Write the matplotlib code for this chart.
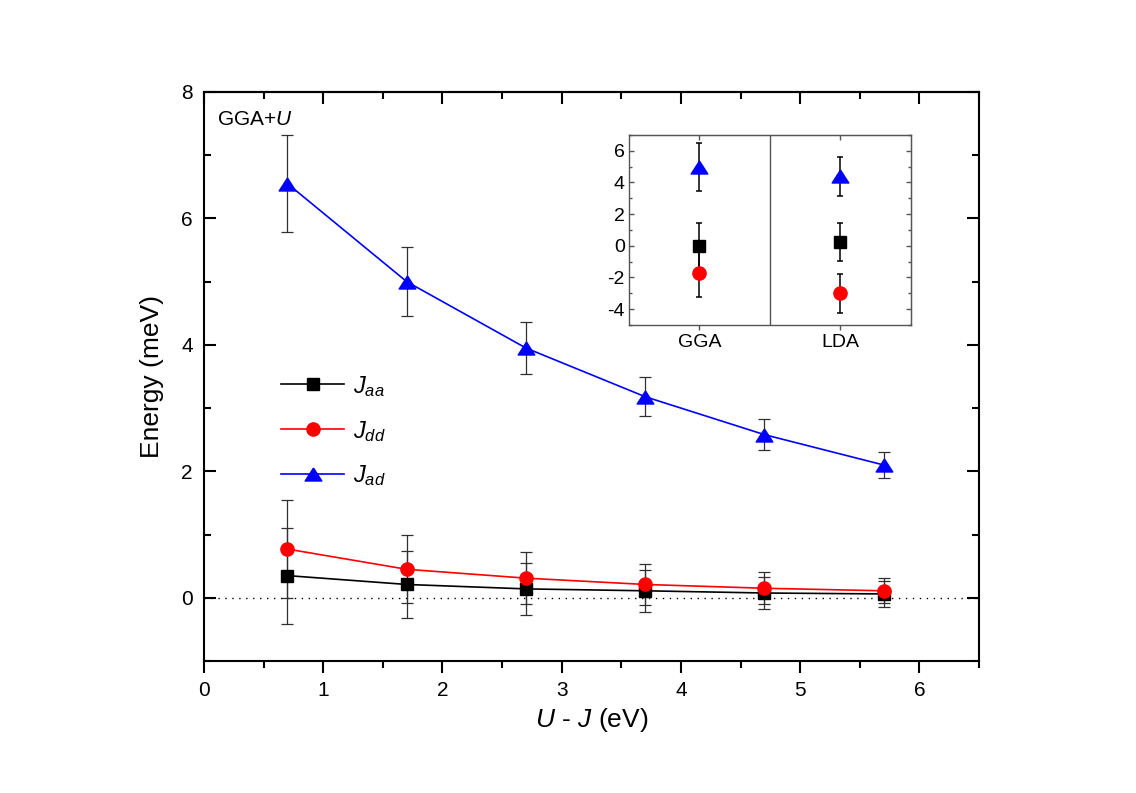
import numpy as np
import matplotlib
matplotlib.use('Agg')
import matplotlib.pyplot as plt
from matplotlib.ticker import MultipleLocator

plt.rcParams['font.family'] = ['Liberation Sans', 'DejaVu Sans']
plt.rcParams['mathtext.fontset'] = 'custom'
plt.rcParams['mathtext.rm'] = 'Liberation Sans'
plt.rcParams['mathtext.it'] = 'Liberation Sans:italic'
plt.rcParams['axes.unicode_minus'] = False

# main panel: exchange constants vs U-J (GGA+U)
u_j = [0.7, 1.7, 2.7, 3.7, 4.7, 5.7]
j_aa = [0.35, 0.21, 0.14, 0.11, 0.075, 0.06]
j_aa_err = [0.76, 0.53, 0.41, 0.33, 0.255, 0.2]
j_dd = [0.77, 0.45, 0.31, 0.21, 0.15, 0.11]
j_dd_err = [0.78, 0.54, 0.41, 0.32, 0.25, 0.2]
j_ad = [6.55, 5.0, 3.95, 3.18, 2.58, 2.1]
j_ad_err = [0.77, 0.55, 0.41, 0.31, 0.25, 0.2]

# inset: GGA vs LDA
methods = ['GGA', 'LDA']
ins_aa = [-0.04, 0.24]
ins_aa_err = [1.48, 1.23]
ins_dd = [-1.73, -3.01]
ins_dd_err = [1.53, 1.23]
ins_ad = [4.98, 4.38]
ins_ad_err = [1.54, 1.24]

tri = [(0, 0.78), (-1, -0.78), (1, -0.78), (0, 0.78)]
series = [
    (j_aa, j_aa_err, ins_aa, ins_aa_err, 'black', 's', 9, r'$J_{aa}$'),
    (j_dd, j_dd_err, ins_dd, ins_dd_err, '#ff0000', 'o', 9.5, r'$J_{dd}$'),
    (j_ad, j_ad_err, ins_ad, ins_ad_err, '#0000ff', tri, 12, r'$J_{ad}$'),
]

fig = plt.figure(figsize=(11.36, 7.93), dpi=100)
ax = fig.add_axes([0.1796, 0.1665, 0.6822, 0.7175])

ax.axhline(0, color='black', ls=(0, (1, 4)), lw=1, zorder=1)
for vals, errs, _, _, col, mk, ms, lab in series:
    ax.errorbar(u_j, vals, yerr=errs, fmt='none', ecolor='#303030',
                elinewidth=0.9, capsize=4.5, capthick=0.9, zorder=2)
    ax.plot(u_j, vals, color=col, lw=1.2, marker=mk, ms=ms,
            mec=col, mfc=col, label=lab, zorder=3)

ax.set_xlim(0, 6.5)
ax.set_ylim(-1, 8)
ax.set_xticks(range(7))
ax.xaxis.set_minor_locator(MultipleLocator(0.5))
ax.set_yticks([0, 2, 4, 6, 8])
ax.yaxis.set_minor_locator(MultipleLocator(1))
for s in ax.spines.values():
    s.set_linewidth(1.5)
ax.tick_params(axis='y', which='both', direction='in', right=True, width=1.5,
               labelsize=15, pad=8)
ax.tick_params(axis='x', which='both', direction='out', width=1.5,
               labelsize=15, pad=6)
ax.tick_params(which='major', length=8.5)
ax.tick_params(which='minor', length=5)

top = ax.secondary_xaxis('top')
top.set_xticks(range(7))
top.xaxis.set_minor_locator(MultipleLocator(0.5))
top.tick_params(which='both', direction='in', width=1.5, labeltop=False)
top.tick_params(which='major', length=8.5)
top.tick_params(which='minor', length=5)
top.spines['top'].set_linewidth(1.5)

ax.set_xlabel(r'$U$ - $J$ (eV)', fontsize=19, labelpad=4)
ax.set_ylabel('Energy (meV)', fontsize=19, labelpad=12)
ax.text(0.017, 0.942, r'GGA+$U$', transform=ax.transAxes, fontsize=15,
        va='baseline')

ax.legend(loc='upper left', bbox_to_anchor=(0.099, 0.505), frameon=False,
          fontsize=17, handlelength=2.7, handletextpad=0.35,
          labelspacing=0.85, borderpad=0, borderaxespad=0)

# inset
ins = fig.add_axes([0.5537, 0.5902, 0.2482, 0.2396])
xpos = np.arange(len(methods)) + 0.5
for _, _, ivals, ierrs, col, mk, ms, _ in series:
    ins.errorbar(xpos, ivals, yerr=ierrs, fmt='none', ecolor='black',
                 elinewidth=1.1, capsize=2.5, capthick=1.1, zorder=2)
    ins.plot(xpos, ivals, ls='none', marker=mk, ms=ms, mec=col, mfc=col,
             zorder=3)
ins.axvline(1, color='#555555', lw=1)
ins.set_xlim(0, 2)
ins.set_ylim(-5, 7)
ins.set_xticks(xpos)
ins.set_xticklabels(methods)
ins.set_yticks([-4, -2, 0, 2, 4, 6])
ins.yaxis.set_minor_locator(MultipleLocator(1))
for s in ins.spines.values():
    s.set_color('#555555')
    s.set_linewidth(1)
ins.tick_params(which='both', direction='in', color='#555555', width=1,
                labelsize=14, pad=3)
ins.tick_params(axis='x', direction='out')
ins.tick_params(which='major', length=3.5)
ins.tick_params(which='minor', length=2)

ins_r = ins.secondary_yaxis('right')
ins_r.set_yticks([-4, -2, 0, 2, 4, 6])
ins_r.yaxis.set_minor_locator(MultipleLocator(1))
ins_r.tick_params(which='both', direction='in', color='#555555', width=1,
                  labelright=False)
ins_r.tick_params(which='major', length=3.5)
ins_r.tick_params(which='minor', length=2)
ins_r.spines['right'].set_color('#555555')

ins_t = ins.secondary_xaxis('top')
ins_t.set_xticks(xpos)
ins_t.tick_params(direction='in', color='#555555', width=1, length=3.5,
                  labeltop=False)
ins_t.spines['top'].set_color('#555555')

fig.savefig('out.png', dpi=100)
